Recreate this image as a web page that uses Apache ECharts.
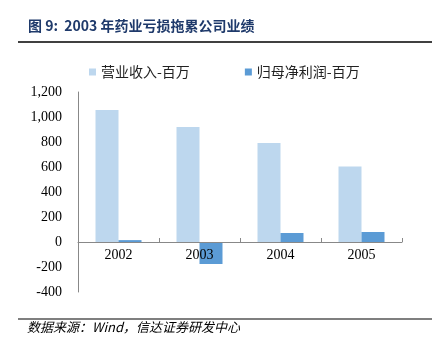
<!DOCTYPE html>
<html><head><meta charset="utf-8">
<script src="https://cdn.jsdelivr.net/npm/echarts@6/dist/echarts.min.js"></script>
<style>html,body{margin:0;padding:0;background:#fff}#c{width:432px;height:349px}</style>
</head><body><div id="c"></div>
<script>
const categories = ['2002', '2003', '2004', '2005'];
const revenue = [1056, 920, 792, 604];
const netProfit = [15, -176, 72, 80];
const seriesNames = ['营业收入-百万', '归母净利润-百万'];
const titleText = '图 9:  2003 年药业亏损拖累公司业绩';
const sourceText = '数据来源：Wind，信达证券研发中心';

const chart = echarts.init(document.getElementById('c'), null, {renderer: 'canvas'});
chart.setOption({
  animation: false,
  backgroundColor: '#fff',
  graphic: [
    {type: 'text', left: 28, top: 19, style: {text: titleText, font: 'bold 14px "Noto Sans CJK SC", sans-serif', fill: '#1F3A6B'}},
    {type: 'line', shape: {x1: 18, y1: 42, x2: 432, y2: 42}, style: {stroke: '#000', lineWidth: 1.5}},
    {type: 'line', shape: {x1: 18, y1: 319, x2: 432, y2: 319}, style: {stroke: '#000', lineWidth: 1.2}},
    {type: 'text', left: 27, top: 321, style: {text: sourceText, font: 'italic 13px "Noto Sans CJK SC", sans-serif', fill: '#000'}}
  ],
  legend: {
    top: 65, left: 89, padding: 0,
    itemWidth: 7, itemHeight: 7, itemGap: 55,
    icon: 'rect',
    textStyle: {fontFamily: '"Noto Sans CJK SC", sans-serif', fontSize: 14, color: '#222'},
    data: seriesNames
  },
  grid: {left: 78, right: 30, top: 92, bottom: 57, containLabel: false},
  xAxis: {
    type: 'category', data: categories,
    offset: -50, z: 5,
    axisLine: {onZero: false, lineStyle: {color: '#888'}},
    axisTick: {show: true, inside: true, length: 4, lineStyle: {color: '#888'}},
    axisLabel: {fontFamily: '"Liberation Serif", serif', fontSize: 14, color: '#000', margin: 6}
  },
  yAxis: {
    type: 'value', min: -400, max: 1200, interval: 200,
    splitLine: {show: false},
    axisLine: {show: true, lineStyle: {color: '#888'}},
    axisTick: {show: false},
    axisLabel: {fontFamily: '"Liberation Serif", serif', fontSize: 14, color: '#000', margin: 16,
      formatter: v => v.toLocaleString('en-US')}
  },
  series: [
    {name: seriesNames[0], type: 'bar', data: revenue, barWidth: 23, barGap: '0%',
      itemStyle: {color: '#BDD7EE'}},
    {name: seriesNames[1], type: 'bar', data: netProfit, barWidth: 23,
      itemStyle: {color: '#5B9BD5'}}
  ]
});
</script></body></html>
